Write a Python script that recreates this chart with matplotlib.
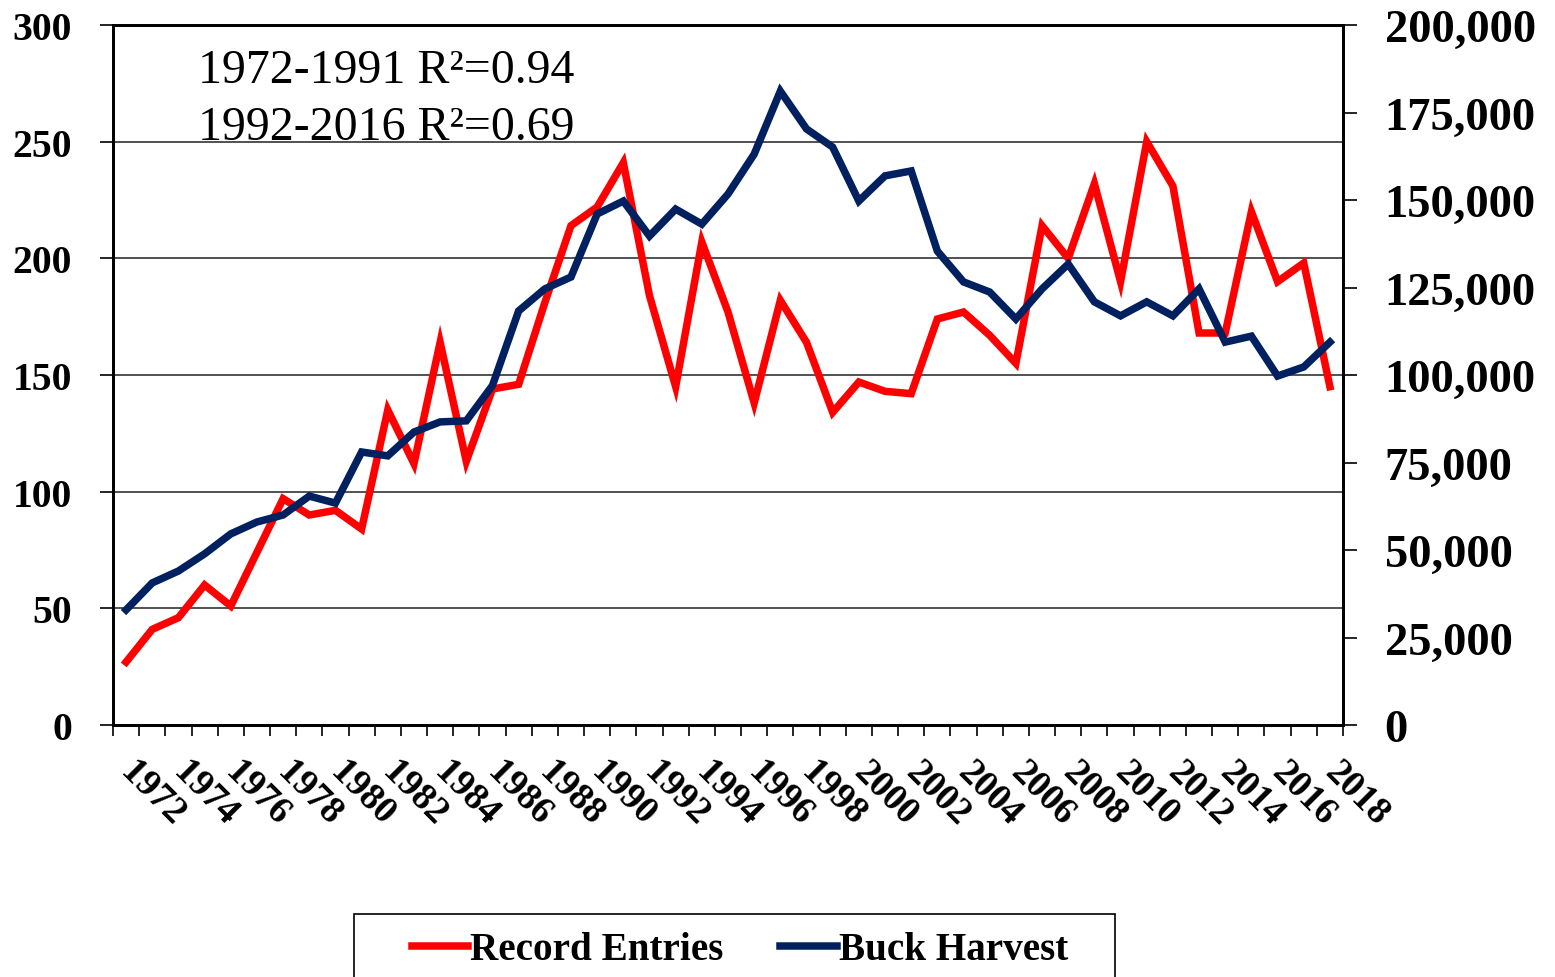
import matplotlib
matplotlib.use('Agg')
import matplotlib.pyplot as plt
from matplotlib.patches import Rectangle
from matplotlib.ticker import FuncFormatter, MultipleLocator
import numpy as np

# data
years = list(range(1972, 2019))
record_entries = [27, 41, 46, 60, 51, 74, 97, 90, 92, 84,
                  135, 112, 164, 113, 144, 146, 181, 214, 222, 241,
                  184, 145, 207, 177, 138, 182, 164, 134, 147, 143,
                  142, 174, 177, 167, 155, 214, 200, 232, 190, 250,
                  231, 168, 168, 220, 190, 198, 145]
buck_harvest = [32900, 40600, 44000, 48900, 54600, 58000, 60000, 65400, 63400, 78000,
                76900, 83700, 86600, 86900, 97000, 118300, 124600, 128000, 146000, 149700,
                139700, 147400, 143100, 151700, 163100, 181100, 170300, 165100, 149700, 156900,
                158300, 135400, 126600, 123700, 116000, 124600, 131700, 120900, 116900, 120900,
                116900, 124600, 109400, 111100, 99700, 102300, 109400]
tick_years = years[::2]
r2_text = ["1972-1991 R\u00b2=0.94", "1992-2016 R\u00b2=0.69"]

plt.rcParams['font.family'] = ['Liberation Serif', 'DejaVu Serif']

W, H = 1555, 978
fig = plt.figure(figsize=(W / 100, H / 100), dpi=100)
ax = fig.add_axes([113 / W, 1 - 726 / H, (1343 - 113) / W, (726 - 26) / H])
ax2 = ax.twinx()

x = np.arange(len(years))
red = '#FF0000'
navy = '#002060'
l1, = ax.plot(x, record_entries, color=red, lw=5.4, solid_joinstyle='miter', zorder=3, label='Record Entries')
l2, = ax2.plot(x, buck_harvest, color=navy, lw=5.4, solid_joinstyle='miter', zorder=3, label='Buck Harvest')

ax.set_xlim(-0.5, len(years) - 0.5)
ax.set_ylim(0, 300)
ax2.set_ylim(0, 200000)

# gridlines on left scale
ax.yaxis.set_major_locator(MultipleLocator(50))
for v in range(50, 300, 50):
    ax.axhline(v, color='#333333', lw=1.2, zorder=1)

ax2.yaxis.set_major_locator(MultipleLocator(25000))
ax2.yaxis.set_major_formatter(FuncFormatter(lambda v, p: f"{int(v):,}"))

# category axis: ticks between categories, labels every 2 years
ax.set_xticks(x[::2])
ax.set_xticklabels([str(y) for y in tick_years])
ax.set_xticks(np.arange(-0.5, len(years)), minor=True)
ax.tick_params(axis='x', which='major', length=0, pad=30)
ax.tick_params(axis='x', which='minor', length=8, width=1.2, direction='out')
for lab in ax.get_xticklabels():
    lab.set_rotation(-45)
    lab.set_rotation_mode('anchor')
    lab.set_ha('left')
    lab.set_va('center')
    lab.set_fontsize(27)
    lab.set_fontweight('bold')

ax.tick_params(axis='y', which='major', length=9.5, width=1.2, direction='out', pad=20, labelsize=28.5)
ax2.tick_params(axis='y', which='major', length=10, width=1.2, direction='out', pad=20, labelsize=33.5)
for lab in ax.get_yticklabels() + ax2.get_yticklabels():
    lab.set_fontweight('bold')

for a in (ax, ax2):
    for s in a.spines.values():
        s.set_linewidth(2)
        s.set_color('black')

# R-squared annotation
ax.text(198 / W, 1 - 83 / H, r2_text[0], transform=fig.transFigure, fontsize=34.5, va='baseline')
ax.text(198 / W, 1 - 140 / H, r2_text[1], transform=fig.transFigure, fontsize=34.5, va='baseline')

# legend box at bottom
fig.patches.append(Rectangle((354 / W, 1 - 990 / H), (1115 - 354) / W, (990 - 915) / H,
                             transform=fig.transFigure, fill=False, edgecolor='black', lw=1.2))
leg = fig.legend(handles=[l1, l2], loc='center', bbox_to_anchor=(740 / W, 1 - 951 / H), ncol=2,
                 frameon=False, prop={'size': 28.2, 'weight': 'bold'},
                 handlelength=1.45, handletextpad=0.05, columnspacing=1.45)

fig.savefig('out.png', dpi=100)
